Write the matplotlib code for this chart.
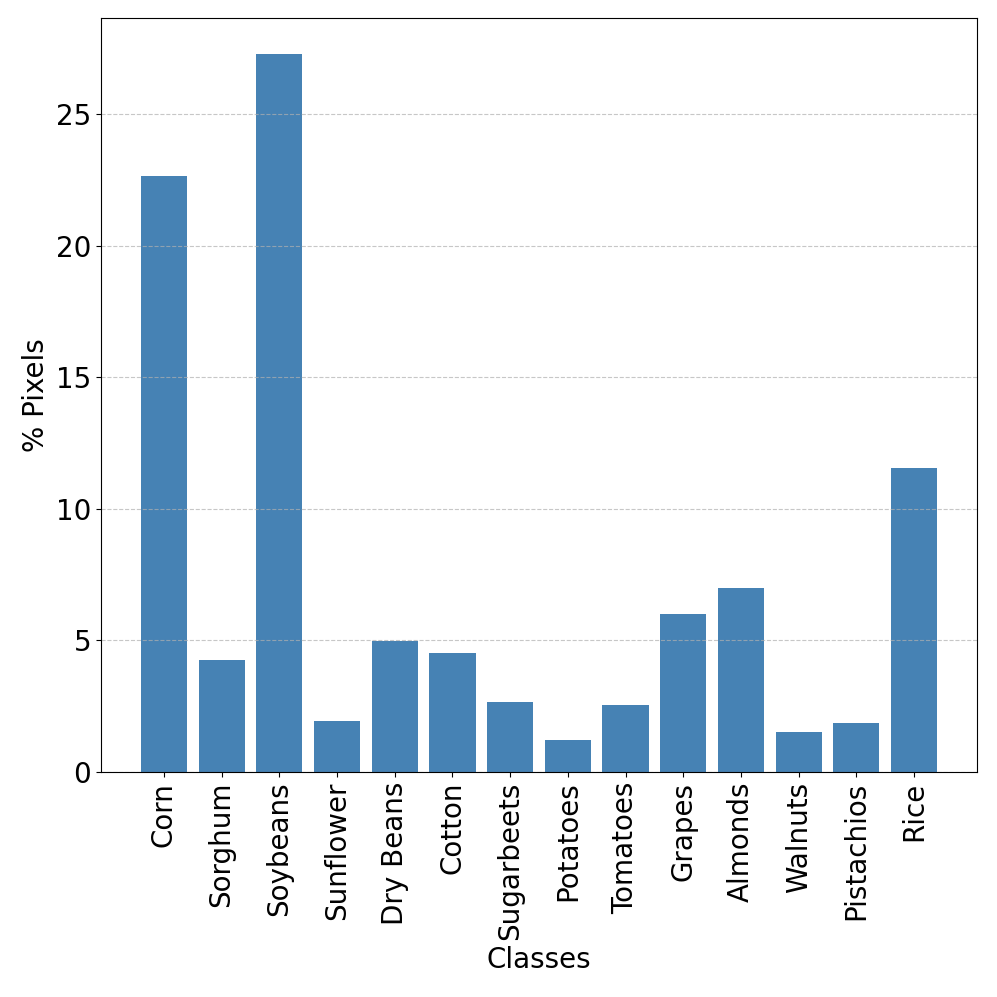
import matplotlib
matplotlib.use("Agg")
import matplotlib.pyplot as plt

classes = ["Corn", "Sorghum", "Soybeans", "Sunflower", "Dry Beans", "Cotton",
           "Sugarbeets", "Potatoes", "Tomatoes", "Grapes", "Almonds", "Walnuts",
           "Pistachios", "Rice"]
pixels_pct = [22.64, 4.26, 27.28, 1.94, 4.98, 4.53, 2.66, 1.22, 2.55, 6.01,
              7.00, 1.52, 1.86, 11.53]

plt.rcParams['font.size'] = 20
fig = plt.figure(figsize=(9.97, 9.97), dpi=100)
ax = fig.add_axes([101/997, 1 - 772/997, (977 - 101)/997, (772 - 18)/997])
ax.bar(classes, pixels_pct, color="steelblue")
ax.set_xlabel("Classes")
ax.set_ylabel("% Pixels")
ax.tick_params(axis='x', rotation=90)
ax.grid(axis='y', linestyle='--', alpha=0.7)
fig.savefig("out.png", dpi=100)
